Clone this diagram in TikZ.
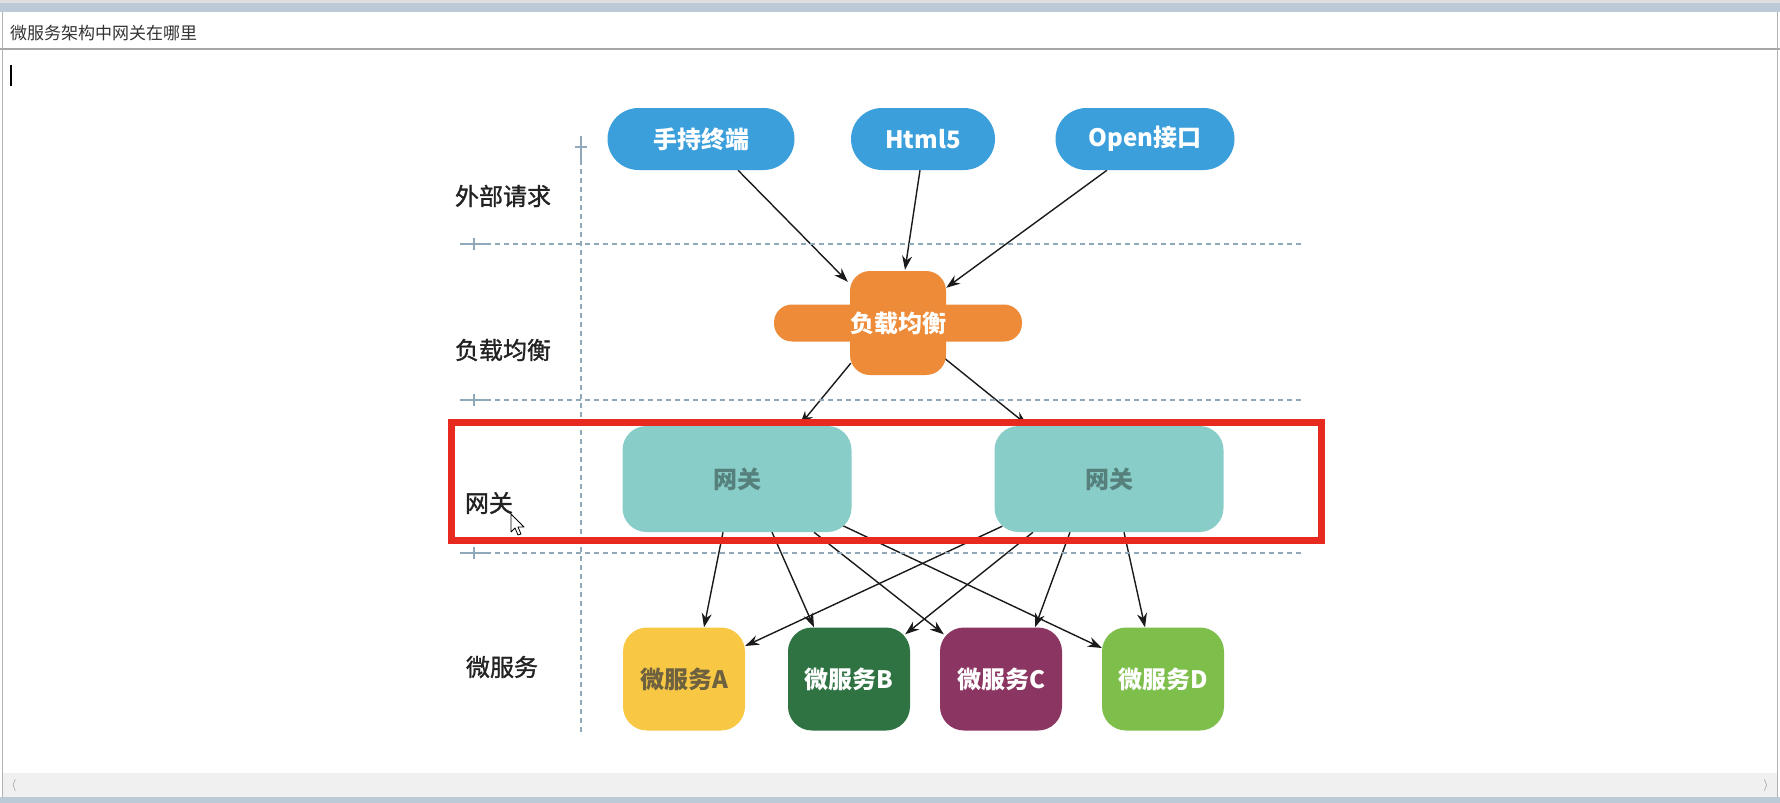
\documentclass[tikz,border=0pt]{standalone}
\usepackage{fontspec}
\newfontfamily\cjk{Noto Sans CJK SC}
\newfontfamily\cjkm[FakeBold=1.2]{Noto Sans CJK SC}
\usetikzlibrary{arrows.meta,calc}
\definecolor{extblue}{HTML}{3B9FDC}
\definecolor{lborange}{HTML}{EE8B38}
\definecolor{gwteal}{HTML}{89CDC9}
\definecolor{gwtext}{HTML}{55807B}
\definecolor{msA}{HTML}{F8C845}
\definecolor{msAtext}{HTML}{6E6140}
\definecolor{msB}{HTML}{2F7343}
\definecolor{msC}{HTML}{8B3562}
\definecolor{msD}{HTML}{7EBF4C}
\definecolor{redbox}{HTML}{E8291F}
\definecolor{gridblue}{HTML}{8FA9BB}
\definecolor{labeltext}{HTML}{222222}
\definecolor{arrowgray}{HTML}{1A1A1A}
\definecolor{chrome}{HTML}{BCCAD7}
\pgfdeclarelayer{back}
\pgfdeclarelayer{bg}
\pgfsetlayers{back,bg,main}
\begin{document}
\begin{tikzpicture}[x=1pt,y=-1pt,
  nodefont/.style={font=\cjk\bfseries\fontsize{24}{24}\selectfont},
  ext/.style={nodefont, fill=extblue, text=white, rounded corners=31pt, minimum height=62pt, inner sep=0pt},
  gw/.style={nodefont, fill=gwteal, text=gwtext, rounded corners=24pt, minimum width=229pt, minimum height=106pt, inner sep=0pt},
  ms/.style={nodefont, rounded corners=24pt, minimum width=122pt, minimum height=103pt, inner sep=0pt},
  lane/.style={font=\cjkm\fontsize{24}{24}\selectfont, text=labeltext},
  grid/.style={draw=gridblue, line width=1.2pt, dash pattern=on 5pt off 4pt},
  gridtick/.style={draw=gridblue, line width=1.2pt},
  arr/.style={-{Stealth[length=14pt,width=10pt]}, line width=1.4pt, draw=arrowgray}
]
\useasboundingbox (0,0) rectangle (1780,803);
\begin{pgfonlayer}{back}
\fill[white] (0,0) rectangle (1780,803);
\end{pgfonlayer}
% window chrome
\fill[chrome] (0,0) rectangle (1780,12);
\fill[gray!25] (0,0) rectangle (1780,3);
\draw[gray!70, line width=1.5pt] (0,49) -- (1780,49);
\draw[gray!60, line width=1pt] (2,12) -- (2,797);
\draw[gray!60, line width=1pt] (1777,12) -- (1777,797);
\fill[gray!12] (3,773) rectangle (1777,797);
\node[font=\fontsize{12}{12}\selectfont, text=gray] (sl) at (14,785) {$\langle$};
\node[font=\fontsize{12}{12}\selectfont, text=gray] (sr) at (1766,785) {$\rangle$};
\fill[chrome] (0,797) rectangle (1780,803);
\node[anchor=west, font=\cjk\fontsize{17}{17}\selectfont, text=black!80, inner sep=0pt] (title) at (10,33) {微服务架构中网关在哪里};
\draw[line width=1.2pt] (11,65) -- (11,86);

% grid
\draw[grid] (486,244) -- (1302,244);
\draw[grid] (486,400) -- (1302,400);
\draw[grid] (486,553) -- (1302,553);
\foreach \yy in {244,400,553}{
  \draw[gridtick] (460,\yy) -- (486,\yy);
  \draw[gridtick] (474,\yy-6) -- (474,\yy+6);
}
\draw[grid] (581,160) -- (581,732);
\draw[gridtick] (581,136) -- (581,160);
\draw[gridtick] (575,147) -- (587,147);

% lane labels
\node[lane] (l1) at (503,196) {外部请求};
\node[lane] (l2) at (503,350) {负载均衡};
\node[lane] (l3) at (489,503) {网关};
\node[lane] (l4) at (502,667) {微服务};

% nodes
\node[ext, minimum width=187pt] (hand) at (701,139) {手持终端};
\node[ext, minimum width=144pt] (html) at (923,139) {Html5};
\node[ext, minimum width=179pt] (open) at (1145,139) {Open接口};

\node[fill=lborange, rounded corners=18pt, minimum width=248pt, minimum height=37pt, inner sep=0pt] (lbh) at (898,323) {};
\node[nodefont, fill=lborange, text=white, rounded corners=20pt, minimum width=83pt, minimum height=104pt, inner sep=0pt] (lb) at (898,323) {负载均衡};

\node[gw] (gw1) at (737,479) {网关};
\node[gw] (gw2) at (1109,479) {网关};

\node[ms, fill=msA, text=msAtext] (A) at (684,679) {微服务A};
\node[ms, fill=msB, text=white] (B) at (849,679) {微服务B};
\node[ms, fill=msC, text=white] (C) at (1001,679) {微服务C};
\node[ms, fill=msD, text=white] (D) at (1163,679) {微服务D};

% red highlight
\draw[redbox, line width=7pt] (451,422) rectangle (1321,540);

% mouse pointer
\draw[fill=white, line width=0.8pt, line join=round] (511,514) -- (511,532) -- (515,528) -- (518,535) -- (521,534) -- (518,527) -- (524,527) -- cycle;

% connectors
\begin{pgfonlayer}{bg}
\draw[arr] ($(hand.south)+(37,0)$) -- ($(lb.north west)+(-2,11)$);
\draw[arr] ($(html.south)+(-3,0)$) -- ($(lb.north)+(7,-1)$);
\draw[arr] ($(open.south)+(-38,0)$) -- ($(lb.north east)+(0,17)$);
\draw[arr] ($(lb.south west)+(1,-12)$) -- ($(gw1.north)+(63,-1)$);
\draw[arr] ($(lb.south east)+(-3,-18)$) -- ($(gw2.north)+(-82,-1)$);

\draw[arr] ($(gw1.south)+(-14,0)$) -- ($(A.north)+(20,0)$);
\draw[arr] ($(gw1.south)+(35,0)$) -- ($(B.north)+(-35,0)$);
\draw[arr] ($(gw1.south)+(77,0)$) -- ($(C.north west)+(4,7)$);
\draw[arr] ($(gw1.south east)+(-12,-8)$) -- ($(D.west)+(0,-31)$);

\draw[arr] ($(gw2.south west)+(8,-6)$) -- ($(A.east)+(0,-33)$);
\draw[arr] ($(gw2.south)+(-76,0)$) -- ($(B.north east)+(-5,7)$);
\draw[arr] ($(gw2.south)+(-39,0)$) -- ($(C.north)+(34,0)$);
\draw[arr] ($(gw2.south)+(15,0)$) -- ($(D.north)+(-18,0)$);
\end{pgfonlayer}
\end{tikzpicture}
\end{document}
